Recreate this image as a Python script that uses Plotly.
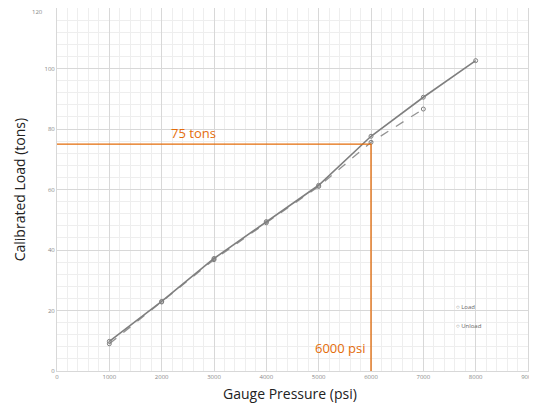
import plotly.graph_objects as go

pressure_load = [1000, 2000, 3000, 4000, 5000, 6000, 7000, 8000]
load_tons = [9.8, 23.0, 37.2, 49.4, 61.4, 77.6, 90.5, 102.6]
pressure_unload = [1000, 2000, 3000, 4000, 5000, 6000, 7000]
unload_tons = [9.0, 22.8, 36.8, 49.0, 61.0, 75.6, 86.6]

x_ticks = [0, 1000, 2000, 3000, 4000, 5000, 6000, 7000, 8000, 9000]
y_ticks = [0, 20, 40, 60, 80, 100, 120]
y_tick_labels = ["0", "20", "40", "60", "80", "100", "120"]

legend_names = ["Load", "Unload"]

target_psi = 6000
target_tons = 75

orange = "#E46C0A"
gray = "#7f7f7f"

fig = go.Figure()

fig.add_trace(go.Scatter(
    x=pressure_unload, y=unload_tons, mode="lines+markers", name="Unload",
    line=dict(color="#939393", width=1.3, dash="dash"),
    marker=dict(symbol="circle-open", size=4, color="#808080", line=dict(width=1)),
    showlegend=False))
fig.add_trace(go.Scatter(
    x=pressure_load, y=load_tons, mode="lines+markers", name="Load",
    line=dict(color=gray, width=1.6),
    marker=dict(symbol="circle-open", size=4, color="#808080", line=dict(width=1)),
    showlegend=False))

# orange guide lines
fig.add_trace(go.Scatter(
    x=[0, target_psi, target_psi], y=[target_tons, target_tons, 0],
    mode="lines", line=dict(color=orange, width=1.3), showlegend=False, hoverinfo="skip"))

fig.add_annotation(x=2600, y=target_tons, text="75 tons", showarrow=False,
                   yshift=11, font=dict(family="Open Sans", size=13, color=orange))
fig.add_annotation(x=target_psi, y=4, text="6000 psi", showarrow=False,
                   xanchor="right", xshift=-3, yanchor="bottom",
                   font=dict(family="Open Sans", size=13, color=orange))

# top tick label kept inside the page
fig.add_annotation(x=0, y=y_ticks[-1], text=y_tick_labels[-1], showarrow=False,
                   xanchor="right", yanchor="top", xshift=-12, yshift=2,
                   font=dict(family="Open Sans", size=6, color="#888"))

# legend box (white patch over the grid) and entries
fig.add_shape(type="rect", x0=7480, x1=8280, y0=11.5, y1=24.5, layer="below",
              fillcolor="white", line=dict(width=0))
for nm, yy in zip(legend_names, [21.2, 15.0]):
    fig.add_annotation(x=7580, y=yy, text="○ " + nm, showarrow=False,
                       xanchor="left", yanchor="middle",
                       font=dict(family="Open Sans", size=6, color="#666"))

# axis titles
fig.add_annotation(xref="paper", yref="paper", x=-0.079, y=0.5,
                   text="Calibrated Load (tons)", textangle=-90, showarrow=False,
                   xanchor="center", yanchor="middle",
                   font=dict(family="Open Sans", size=14, color="#222"))
fig.add_annotation(xref="paper", yref="paper", x=0.495, y=-0.061,
                   text="Gauge Pressure (psi)", showarrow=False,
                   xanchor="center", yanchor="middle",
                   font=dict(family="Open Sans", size=14, color="#222"))

fig.update_layout(
    width=529, height=397,
    margin=dict(l=49, r=9, t=0, b=34, autoexpand=False),
    paper_bgcolor="white", plot_bgcolor="white",
    font=dict(family="Open Sans", color="#222"),
    showlegend=False,
    xaxis=dict(range=[0, 9000], tickvals=x_ticks, ticks="", automargin=False,
               tickfont=dict(size=6, color="#888"),
               showgrid=True, gridcolor="#d8d8d8", gridwidth=1,
               minor=dict(dtick=200, showgrid=True, gridcolor="#eeeeee", gridwidth=1),
               zeroline=False, showline=True, linecolor="#d8d8d8", mirror=True),
    yaxis=dict(range=[0, 120], tickvals=y_ticks[:-1], ticktext=y_tick_labels[:-1],
               ticks="", automargin=False,
               tickfont=dict(size=6, color="#888"),
               showgrid=True, gridcolor="#d8d8d8", gridwidth=1,
               minor=dict(dtick=4, showgrid=True, gridcolor="#eeeeee", gridwidth=1),
               zeroline=False, showline=True, linecolor="#d8d8d8", mirror=True),
)

fig.write_html("out.html")
